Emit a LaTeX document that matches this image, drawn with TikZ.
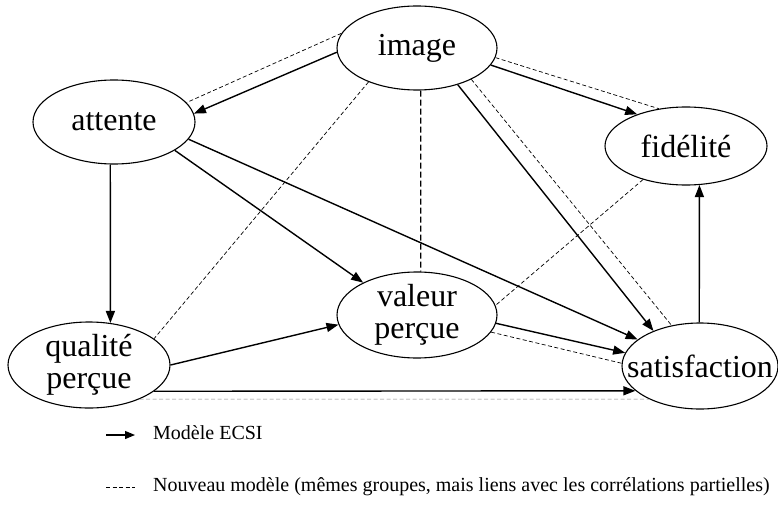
\documentclass[tikz,border=0pt]{standalone}
\usepackage{fontspec}
\setmainfont{Liberation Serif}
\usetikzlibrary{shapes.geometric,arrows.meta}
\begin{document}
\begin{tikzpicture}[x=1pt,y=-1pt,
  construct/.style={ellipse, draw, line width=1.1pt, inner sep=0pt},
  nlabel/.style={font=\fontsize{32}{32}\selectfont, align=center, inner sep=0pt},
  ecsi/.style={line width=1.4pt, -{Triangle[length=12pt,width=9pt]}},
  newm/.style={line width=0.7pt, dash pattern=on 4pt off 2.5pt},
  legtext/.style={font=\fontsize{20}{22}\selectfont, anchor=west, inner sep=0pt}]
\useasboundingbox (0,0) rectangle (778,516);

\node[construct, minimum width=160pt, minimum height=84pt, label={[nlabel]center:image}] (image) at (417,48) {};
\node[construct, minimum width=162pt, minimum height=84pt, label={[nlabel]center:attente}] (att) at (114,122) {};
\node[construct, minimum width=162pt, minimum height=78pt, label={[nlabel]center:fidélité}] (fid) at (686,146) {};
\node[construct, minimum width=160pt, minimum height=86pt, label={[nlabel]center:{valeur\\perçue}}] (val) at (417,315) {};
\node[construct, minimum width=162pt, minimum height=86pt, label={[nlabel]center:{qualité\\perçue}}] (qual) at (89,365) {};
\node[construct, minimum width=156pt, minimum height=86pt, label={[nlabel]center:satisfaction}] (sat) at (700,366) {};

% ECSI model
\draw[ecsi] (image.183) -- (att.6);
\draw[ecsi] (image.-13) -- (fid.147);
\draw[ecsi] (image.-42) -- (sat.143);
\draw[ecsi] (att.265) -- (qual.63);
\draw[ecsi] (att.-25) -- (val.149);
\draw[ecsi] (att.-13) -- (sat.157);
\draw[ecsi] (qual.0) -- (val.187);
\draw[ecsi] (qual.-22) -- (sat.201);
\draw[ecsi] (val.-6) -- (sat.170);
\draw[ecsi] (sat.91) -- (fid.-71);

% new model
\draw[newm] (image.169) -- (att.15);
\draw[newm] (image.-7) -- (fid.126);
\draw[newm] (image.-30) -- (sat.125);
\draw[newm] (image.215) -- (qual.22);
\draw[newm, line width=1.2pt, dash pattern=on 6pt off 3pt] (image.275) -- (val.85);
\draw[newm, gray] (qual.-34) -- (sat.213);
\draw[newm] (val.-13) -- (sat.178);
\draw[newm] (fid.218) -- (val.7);

% legend
\coordinate (la1) at (106,435);
\coordinate (la2) at (135,435);
\draw[line width=1.2pt, -{Triangle[length=10pt,width=8pt]}] (la1) -- (la2);
\node[legtext] (l1) at (153,433) {Modèle ECSI};
\coordinate (lb1) at (106,487);
\coordinate (lb2) at (135,487);
\draw[newm] (lb1) -- (lb2);
\node[legtext] (l2) at (153,487) {Nouveau modèle (mêmes groupes, mais liens avec les corrélations partielles)};
\end{tikzpicture}
\end{document}
